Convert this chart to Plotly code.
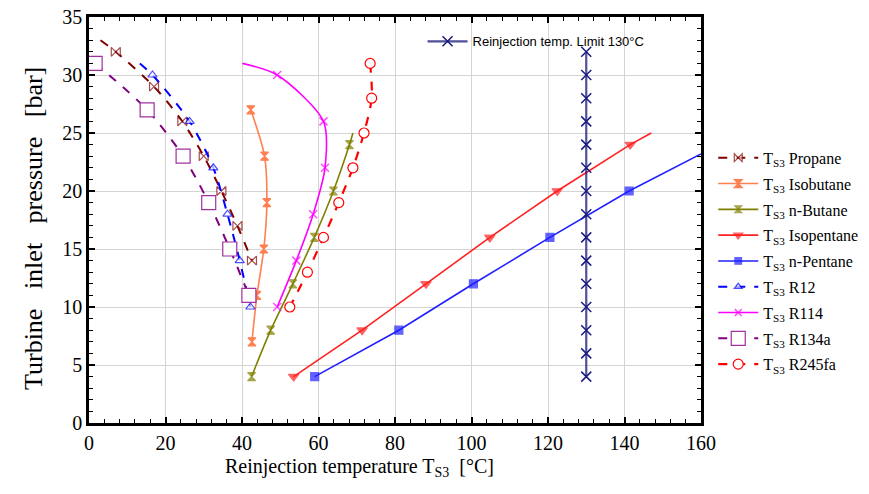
import plotly.graph_objects as go

# ---- data (T in °C, P in bar) ----
propane_T = [3.0, 7.0, 17.0, 24.4, 30.0, 34.6, 38.8, 42.6]
propane_P = [33, 32, 29, 26, 23, 20, 17, 14]
propane_mark = [0, 1, 1, 1, 1, 1, 1, 1]

isobutane_T = [42.3, 45.9, 46.5, 45.7, 43.9, 42.6]
isobutane_P = [27, 23, 19, 15, 11, 7]

nbutane_T = [42.5, 47.5, 53.3, 58.9, 63.9, 68.1, 69.0]
nbutane_P = [4, 8, 12, 16, 20, 24, 25]
nbutane_mark = [1, 1, 1, 1, 1, 1, 0]

isopentane_T = [53.5, 71.4, 88.1, 104.8, 122.4, 141.5, 147.0]
isopentane_P = [4, 8, 12, 16, 20, 24, 25]
isopentane_mark = [1, 1, 1, 1, 1, 1, 0]

npentane_T = [59.0, 81.0, 100.5, 120.5, 141.2, 160.0]
npentane_P = [4, 8, 12, 16, 20, 23.2]
npentane_mark = [1, 1, 1, 1, 1, 0]

r12_T = [13.3, 16.6, 26.3, 32.5, 36.2, 39.4, 42.2]
r12_P = [31, 30, 26, 22, 18, 14, 10]
r12_mark = [0, 1, 1, 1, 1, 1, 1]

r114_T = [40.1, 49.2, 61.3, 61.7, 58.6, 54.2, 49.2]
r114_P = [31, 30, 26, 22, 18, 14, 10]
r114_mark = [0, 1, 1, 1, 1, 1, 1]

r134a_T = [1.6, 15.2, 24.6, 31.3, 36.8, 41.8]
r134a_P = [31, 27, 23, 19, 15, 11]

r245fa_T = [73.5, 73.9, 71.9, 69.0, 65.3, 61.3, 57.1, 52.5]
r245fa_P = [31, 28, 25, 22, 19, 16, 13, 10]

limit_T = 130
limit_P = [4, 6, 8, 10, 12, 14, 16, 18, 20, 22, 24, 26, 28, 30, 32]

x_ticks = [0, 20, 40, 60, 80, 100, 120, 140, 160]
y_ticks = [0, 5, 10, 15, 20, 25, 30, 35]

SERIF = "Liberation Serif, Times New Roman, serif"
SANS = "Liberation Sans, Arial, sans-serif"

fig = go.Figure()


def sizes(mask, s):
    return [s * m for m in mask]


def add(name, T, P, color, symbol, msize, dash="solid", shape="spline", mask=None,
        width=1.6, mcolor=None, mline=1.2, fill=None):
    ms = msize if mask is None else sizes(mask, msize)
    edge = mcolor or color
    fig.add_trace(go.Scatter(
        x=T, y=P, mode="lines+markers", name="T<sub>S3</sub> " + name,
        legendgroup=name,
        line=dict(color=color, width=width, dash=dash, shape=shape, smoothing=0.8),
        marker=dict(symbol=symbol, size=ms, color=fill or edge,
                    line=dict(color=edge, width=mline)),
        legend="legend",
    ))


add("Propane", propane_T, propane_P, "#800000", "bowtie", 9, dash="dash",
    mask=propane_mark, width=2, fill="white")
add("Isobutane", isobutane_T, isobutane_P, "#FF7F50", "hourglass", 8)
add("n-Butane", nbutane_T, nbutane_P, "#808000", "hourglass", 8, mask=nbutane_mark)
add("Isopentane", isopentane_T, isopentane_P, "#FF2020", "triangle-down", 9,
    shape="linear", mask=isopentane_mark)
add("n-Pentane", npentane_T, npentane_P, "#2020FF", "square", 8,
    shape="linear", mask=npentane_mark)
add("R12", r12_T, r12_P, "#0000FF", "triangle-up", 8, dash="dash",
    mask=r12_mark, width=2, fill="white")
add("R114", r114_T, r114_P, "#FF00FF", "x-thin-open", 8, mask=r114_mark, mline=1.5)
add("R134a", r134a_T, r134a_P, "#800080", "square", 14, dash="dash",
    width=2, mcolor="#A030A0", fill="white")
add("R245fa", r245fa_T, r245fa_P, "#FF0000", "circle", 10, dash="dash", width=2.2,
    fill="white")

fig.add_trace(go.Scatter(
    x=[limit_T] * len(limit_P), y=limit_P, mode="lines+markers",
    name="Reinjection temp. Limit 130°C",
    line=dict(color="rgba(20,20,120,0.75)", width=2.2),
    marker=dict(symbol="x-thin-open", size=10, color="#1a1a80",
                line=dict(color="#1a1a80", width=1.5)),
    legend="legend2",
))

axis_common = dict(
    showline=True, linecolor="black", linewidth=2.5, mirror="allticks",
    ticks="inside", ticklen=6, tickwidth=1.5, tickcolor="black",
    showgrid=True, gridcolor="#d4d4d4", gridwidth=1, zeroline=False,
    automargin=False, ticklabeloverflow="allow",
    tickfont=dict(family=SERIF, size=20, color="black"),
)

fig.update_xaxes(range=[0, 160], tickvals=x_ticks, ticktext=[str(v) for v in x_ticks],
                 minor=dict(dtick=4, ticks="inside", ticklen=4, tickwidth=1.2,
                            tickcolor="black", showgrid=False),
                 **axis_common)
fig.update_yaxes(range=[0, 35], tickvals=y_ticks, ticktext=[str(v) for v in y_ticks],
                 minor=dict(dtick=1, ticks="inside", ticklen=4, tickwidth=1.2,
                            tickcolor="black", showgrid=False),
                 **axis_common)

fig.update_layout(
    width=869, height=494,
    margin=dict(l=89, r=168, t=17, b=71, autoexpand=False),
    paper_bgcolor="white", plot_bgcolor="white",
    showlegend=True,
    legend=dict(x=1.02, y=0.695, xanchor="left", yanchor="top",
                font=dict(family=SERIF, size=16, color="black"),
                bgcolor="rgba(255,255,255,0)", tracegroupgap=2, itemwidth=40),
    legend2=dict(x=0.545, y=0.94, xanchor="left", yanchor="middle",
                 font=dict(family=SANS, size=13, color="black"),
                 bgcolor="rgba(255,255,255,0)", itemwidth=40),
    annotations=[
        dict(text="Reinjection temperature T<sub>S3</sub>  [°C]", xref="paper", yref="paper",
             x=(359 - 89) / 612, y=-0.075, xanchor="center", yanchor="top",
             showarrow=False, font=dict(family=SERIF, size=20, color="black")),
        dict(text="Turbine   inlet   pressure   [bar]", xref="paper", yref="paper",
             x=(33 - 89) / 612, y=(423 - 229) / 406, xanchor="center", yanchor="middle",
             textangle=-90, showarrow=False,
             font=dict(family=SERIF, size=26, color="black")),
    ],
)

fig.write_html("out.html",
               config={"displayModeBar": False},
               post_script="document.body.style.margin='0px';"
                           "document.body.style.padding='0px';")
